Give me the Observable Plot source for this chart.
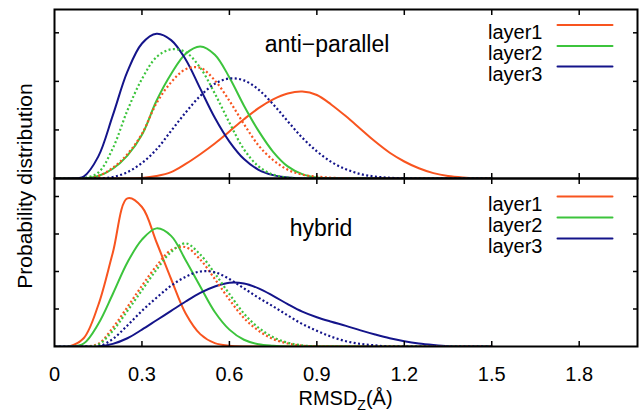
<!DOCTYPE html>
<html>
<head>
<meta charset="utf-8">
<script src="https://cdn.jsdelivr.net/npm/d3@7"></script>
<script src="https://cdn.jsdelivr.net/npm/@observablehq/plot@0.6"></script>
<style>
  body { margin: 0; background: #fff; font-family: "Liberation Sans", Arial, sans-serif; }
  #wrap { position: relative; width: 640px; height: 413px; overflow: hidden; background: #fff; }
  #top, #bottom { position: absolute; left: 0; }
  #top { top: 0; }
  #bottom { top: 176px; }
  #ylab { position: absolute; left: 25px; top: 186px; transform: translate(-50%, -50%) rotate(-90deg);
          font-size: 21px; white-space: nowrap; color: #000; }
  #xlab { position: absolute; left: 345.5px; top: 388px; transform: translateX(-50%);
          font-size: 20px; line-height: 20px; white-space: nowrap; color: #000; }
  #xlab sub { font-size: 14px; vertical-align: -5px; line-height: 0; }
</style>
</head>
<body>
<div id="wrap">
  <div id="top"></div>
  <div id="bottom"></div>
  <div id="ylab">Probability distribution</div>
  <div id="xlab">RMSD<sub>Z</sub>(Å)</div>
</div>
<script>
// ---- data (x grid shared by every curve) ----
const xGrid = [0.00,0.05,0.10,0.15,0.20,0.25,0.30,0.35,0.40,0.45,0.50,0.55,0.60,0.65,0.70,0.75,
               0.80,0.85,0.90,0.95,1.00,1.05,1.10,1.15,1.20,1.25,1.30,1.35,1.40,1.45,1.50];

// anti-parallel panel
const apLayer1 = [0,0,0,0,0,0,0.01,0.05,0.13,0.3,0.5,0.72,0.97,1.22,1.45,1.63,1.75,1.79,1.72,1.52,1.28,1.02,0.76,0.53,0.35,0.21,0.11,0.05,0.02,0.005,0];
const apLayer2 = [0,0,0,0.05,0.2,0.47,0.9,1.6,2.15,2.57,2.72,2.55,2.08,1.5,0.98,0.55,0.25,0.09,0.02,0,0,0,0,0,0,0,0,0,0,0,0];
const apLayer3 = [0,0,0.04,0.45,1.3,2.2,2.78,2.98,2.85,2.45,1.85,1.25,0.76,0.4,0.18,0.07,0.02,0,0,0,0,0,0,0,0,0,0,0,0,0,0];
const apLayer1Dot = [0,0,0,0.05,0.22,0.5,0.92,1.55,1.98,2.25,2.28,2.02,1.6,1.12,0.68,0.38,0.18,0.08,0.04,0.015,0.005,0,0,0,0,0,0,0,0,0,0];
const apLayer2Dot = [0,0,0.01,0.12,0.62,1.4,2.05,2.5,2.66,2.6,2.28,1.75,1.15,0.6,0.25,0.08,0.02,0,0,0,0,0,0,0,0,0,0,0,0,0,0];
const apLayer3Dot = [0,0,0,0,0.03,0.13,0.32,0.6,0.98,1.36,1.7,1.95,2.06,2.02,1.83,1.53,1.18,0.84,0.56,0.34,0.19,0.09,0.04,0.015,0,0,0,0,0,0,0];

// hybrid panel
const hyLayer1 = [0,0,0.22,1.1,2.5,3.95,3.72,2.78,1.8,0.88,0.33,0.09,0.02,0,0,0,0,0,0,0,0,0,0,0,0,0,0,0,0,0,0];
const hyLayer2 = [0,0,0.08,0.6,1.4,2.24,2.85,3.15,2.95,2.3,1.6,0.92,0.45,0.18,0.06,0.02,0,0,0,0,0,0,0,0,0,0,0,0,0,0,0];
const hyLayer3 = [0,0,0,0,0.07,0.22,0.45,0.7,0.95,1.2,1.43,1.6,1.7,1.68,1.55,1.35,1.13,0.93,0.78,0.66,0.55,0.43,0.32,0.22,0.14,0.08,0.04,0.01,0,0,0];
const hyLayer1Dot = [0,0,0,0.07,0.5,1.05,1.62,2.15,2.57,2.65,2.32,1.8,1.25,0.76,0.42,0.2,0.08,0.02,0,0,0,0,0,0,0,0,0,0,0,0,0];
const hyLayer2Dot = [0,0,0,0.05,0.42,0.95,1.5,2.05,2.52,2.75,2.45,1.95,1.4,0.88,0.5,0.25,0.1,0.03,0,0,0,0,0,0,0,0,0,0,0,0,0];
const hyLayer3Dot = [0,0,0,0,0.2,0.56,0.95,1.3,1.62,1.86,2.0,1.98,1.8,1.55,1.3,1.07,0.83,0.6,0.42,0.26,0.14,0.07,0.03,0,0,0,0,0,0,0,0];

const layerNames = ["layer1", "layer2", "layer3"];
const xTicks = [0.3, 0.6, 0.9, 1.2, 1.5, 1.8];
const xTickLabels = [0, 0.3, 0.6, 0.9, 1.2, 1.5, 1.8];
const apYTicks = [1, 2, 3];
const hyYTicks = [1, 2, 3, 4];
const panelTitles = ["anti\u2212parallel", "hybrid"];

// ---- styles ----
const colors = ["#f8541f", "#3cc43c", "#14148a"];
const FONT = "'Liberation Sans', Arial, Helvetica, sans-serif";
const lineShape = { draw(context, l) { context.moveTo(0, 0); context.lineTo(0, -l); } };

function panel({solid, dotted, yDomain, yTicks, title, titleDx, titleDy, legendDy, height, marginTop, marginBottom, tickLabels}) {
  const marks = [];
  solid.forEach((vals, i) => {
    marks.push(Plot.line(xGrid, {x: d => d, y: vals, stroke: colors[i], strokeWidth: 2, curve: "catmull-rom", clip: true}));
  });
  dotted.forEach((vals, i) => {
    marks.push(Plot.line(xGrid, {x: d => d, y: vals, stroke: colors[i], strokeWidth: 2.2, strokeDasharray: "2,2.4", strokeLinecap: "butt", curve: "catmull-rom", clip: true}));
  });
  // inward ticks on all four sides
  marks.push(Plot.axisX(xTicks, {anchor: "bottom", tickSize: 5, dy: -5, fill: "none", label: null, stroke: "black", strokeWidth: 1.5}));
  marks.push(Plot.axisX(xTicks, {anchor: "top", tickSize: 5, dy: 5, fill: "none", label: null, stroke: "black", strokeWidth: 1.5}));
  marks.push(Plot.axisY(yTicks, {anchor: "left", tickSize: 5, dx: 5, fill: "none", label: null, stroke: "black", strokeWidth: 1.5}));
  marks.push(Plot.axisY(yTicks, {anchor: "right", tickSize: 5, dx: -5, fill: "none", label: null, stroke: "black", strokeWidth: 1.5}));
  if (tickLabels) {
    marks.push(Plot.axisX(xTickLabels, {anchor: "bottom", tickSize: 0, tickPadding: 20, fontSize: 20, label: null, tickFormat: d => String(d), fill: "black"}));
  }
  // panel title
  marks.push(Plot.text([title], {text: d => d, frameAnchor: "top", dx: titleDx, dy: titleDy, fontSize: 23, fill: "black"}));
  // legend
  layerNames.forEach((name, i) => {
    marks.push(Plot.text([name], {text: d => d, frameAnchor: "top-right", dx: -95, dy: legendDy[i], textAnchor: "end", fontSize: 20, fill: "black"}));
    marks.push(Plot.vector([name], {frameAnchor: "top-right", dx: -80, dy: legendDy[i], rotate: 90, length: 55, anchor: "start", shape: lineShape, stroke: colors[i], strokeWidth: 2}));
  });
  marks.push(Plot.frame({stroke: "black", strokeWidth: 2}));
  return Plot.plot({
    width: 640, height, marginLeft: 54, marginRight: 3, marginTop, marginBottom,
    x: {domain: [0, 2.0]},
    y: {domain: yDomain},
    style: {fontFamily: FONT, background: "none", overflow: "visible", color: "black"},
    marks
  });
}

document.getElementById("top").append(panel({
  solid: [apLayer1, apLayer2, apLayer3],
  dotted: [apLayer1Dot, apLayer2Dot, apLayer3Dot],
  yDomain: [0, 3.48], yTicks: apYTicks,
  title: panelTitles[0], titleDx: -19, titleDy: 26,
  legendDy: [15.5, 36.5, 57],
  height: 180, marginTop: 9, marginBottom: 2, tickLabels: false
}));

document.getElementById("bottom").append(panel({
  solid: [hyLayer1, hyLayer2, hyLayer3],
  dotted: [hyLayer1Dot, hyLayer2Dot, hyLayer3Dot],
  yDomain: [0, 4.48], yTicks: hyYTicks,
  title: panelTitles[1], titleDx: -25, titleDy: 41,
  legendDy: [18, 39, 60],
  height: 237, marginTop: 2, marginBottom: 67, tickLabels: true
}));
</script>
</body>
</html>
